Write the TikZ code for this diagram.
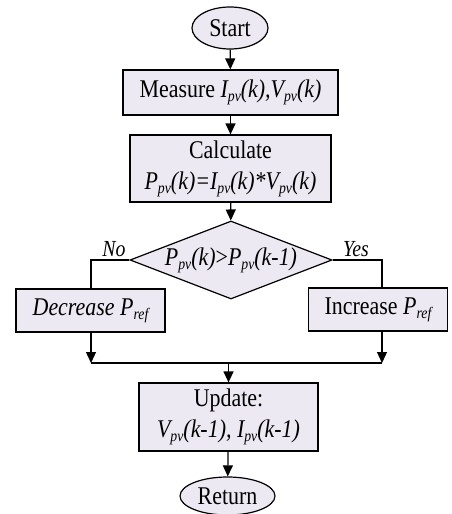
\documentclass[tikz,border=0pt]{standalone}
\usepackage{fontspec}
\setmainfont[FakeStretch=0.86]{Liberation Serif}
\usetikzlibrary{shapes.geometric,arrows.meta}
\definecolor{boxfill}{RGB}{236,233,242}
\newcommand{\subtx}[1]{\raisebox{-0.35ex}{\fontsize{16}{16}\selectfont\itshape #1}}
\begin{document}
\begin{tikzpicture}[x=1pt, y=-1pt, line width=1.2pt]
			\tikzstyle{block}    = [rectangle, draw=black, fill=boxfill, inner sep=0pt, align=center, font=\fontsize{25.5}{31}\selectfont]
			\tikzstyle{term}     = [ellipse, draw=black, fill=boxfill, inner sep=0pt, font=\fontsize{25.5}{28}\selectfont]
			\tikzstyle{decision} = [diamond, draw=black, fill=boxfill, inner sep=0pt, aspect=2.6, font=\fontsize{25.5}{28}\selectfont]
			\tikzstyle{lbl}      = [font=\fontsize{23}{26}\selectfont\itshape, inner sep=0pt]
			\tikzstyle{arrow}    = [-{Triangle[length=11pt, width=10pt]}]

			\useasboundingbox (0,0) rectangle (451,514);

			\node[term, minimum width=76pt, minimum height=42pt] (start) at (230, 28) {Start};
			\node[block, minimum width=215pt, minimum height=45pt] (measure) at (230.5, 92.5) {Measure {\itshape I\subtx{pv}(k),V\subtx{pv}(k)}};
			\node[block, minimum width=201pt, minimum height=67pt] (calc) at (230.5, 168.5) {Calculate\\{\itshape P\subtx{pv}(k)=I\subtx{pv}(k)*V\subtx{pv}(k)}};
			\node[decision, minimum width=202pt, minimum height=78pt] (cond) at (231, 260) {{\itshape P\subtx{pv}(k)}>{\itshape P\subtx{pv}(k-1)}};
			\node[block, minimum width=149pt, minimum height=43pt] (dec) at (90.5, 310.5) {{\itshape Decrease P\subtx{ref}}};
			\node[block, minimum width=139pt, minimum height=43pt] (inc) at (378, 309.5) {Increase {\itshape P\subtx{ref}}};
			\node[block, minimum width=179pt, minimum height=68pt] (upd) at (228.5, 417) {Update:\\{\itshape V\subtx{pv}(k-1), I\subtx{pv}(k-1)}};
			\node[term, minimum width=95pt, minimum height=38pt] (ret) at (227.5, 496) {Return};

			\node[lbl] (no) at (114, 249) {No};
			\node[lbl] (yes) at (356, 249) {Yes};

			\coordinate (jl) at (91, 363);
			\coordinate (jr) at (382, 363);

			\foreach \from/\to in {start/measure, measure/calc, calc/cond, upd/ret}
				\draw[arrow] (\from) -- (\to);

			\draw (cond.west) -| (dec.north -| jl);
			\draw (cond.east) -| (inc.north -| jr);
			\draw[arrow] (dec.south -| jl) -- (jl);
			\draw[arrow] (inc.south -| jr) -- (jr);
			\draw (jl) -- (jr);
			\draw[arrow] (upd.north |- jl) -- (upd.north);

		\end{tikzpicture}
\end{document}
